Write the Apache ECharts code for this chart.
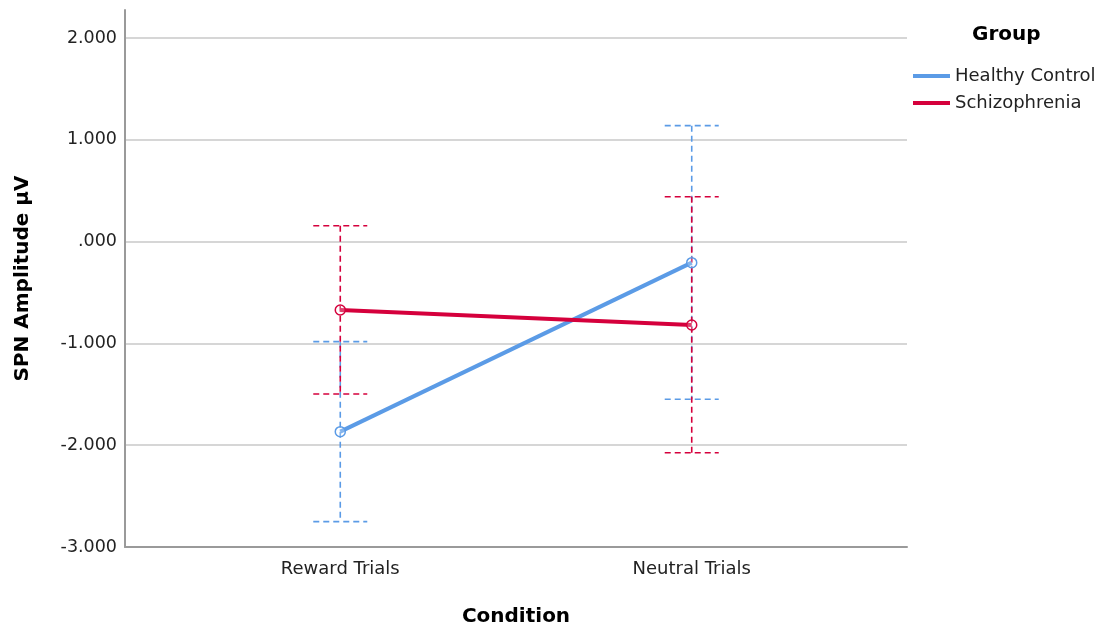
<!DOCTYPE html>
<html>
<head>
<meta charset="utf-8">
<script src="https://cdn.jsdelivr.net/npm/echarts@6/dist/echarts.min.js"></script>
<style>
  html, body { margin: 0; padding: 0; background: #fff; }
  #chart { width: 1102px; height: 630px; }
</style>
</head>
<body>
<div id="chart"></div>
<script>
const categories = ['Reward Trials', 'Neutral Trials'];
const groups = ['Healthy Control', 'Schizophrenia'];
const colors = ['#5b9be6', '#d5003c'];

// means and 95% CI per condition
const healthyMean = [-1.867, -0.207];
const healthyLow = [-2.751, -1.549];
const healthyHigh = [-0.983, 1.139];
const schizMean = [-0.672, -0.819];
const schizLow = [-1.497, -2.074];
const schizHigh = [0.156, 0.441];

const yTicks = [-3, -2, -1, 0, 1, 2];

let chartDom = document.getElementById('chart');
let myChart = echarts.init(chartDom);

const fmtTick = v => {
    if (!yTicks.includes(v)) return '';
    let s = v.toFixed(3);
    if (v === 0) s = '.000';
    return s;
};

const errorBars = (name, low, high, color) => ({
    name: name + ' CI',
    type: 'custom',
    silent: true,
    z: 1,
    data: low.map((l, i) => [i, l, high[i]]),
    renderItem: (params, api) => {
        const x = api.value(0);
        const bottom = api.coord([x, api.value(1)]);
        const top = api.coord([x, api.value(2)]);
        const half = 27;
        const style = {stroke: color, lineWidth: 1.6, lineDash: [6, 4]};
        return {
            type: 'group',
            children: [
                {type: 'line', shape: {x1: top[0], y1: top[1], x2: bottom[0], y2: bottom[1]}, style},
                {type: 'line', shape: {x1: top[0] - half, y1: top[1], x2: top[0] + half, y2: top[1]}, style},
                {type: 'line', shape: {x1: bottom[0] - half, y1: bottom[1], x2: bottom[0] + half, y2: bottom[1]}, style},
            ]
        };
    }
});

const meanLine = (name, values, color) => ({
    name,
    type: 'line',
    z: 3,
    color,
    data: values.map((v, i) => [i, v]),
    lineStyle: {width: 4, color},
    symbol: 'circle',
    symbolSize: 10,
    itemStyle: {color: 'rgba(255,255,255,0.25)', borderColor: color, borderWidth: 1.5},
    emphasis: {disabled: true},
});

const option = {
    animation: false,
    textStyle: {fontFamily: 'DejaVu Sans'},
    title: {
        text: 'Group',
        left: 967,
        top: 20,
        textStyle: {fontSize: 20, fontWeight: 'bold', color: '#000', fontFamily: 'DejaVu Sans'},
    },
    legend: {
        data: groups.map((g, i) => ({name: g, icon: 'rect', itemStyle: {color: colors[i], borderWidth: 0}})),
        orient: 'vertical',
        left: 908,
        top: 62,
        itemWidth: 37,
        itemHeight: 4,
        itemGap: 9,
        textStyle: {fontSize: 18, color: '#222', fontFamily: 'DejaVu Sans'},
    },
    grid: {
        left: 125,
        right: 195,
        top: 10,
        bottom: 83,
        outerBoundsMode: 'none',
    },
    xAxis: {
        type: 'value',
        min: -0.6125,
        max: 1.6125,
        name: 'Condition',
        nameLocation: 'middle',
        nameGap: 60,
        nameTextStyle: {fontSize: 20, fontWeight: 'bold', color: '#000'},
        axisLine: {show: true, onZero: false, lineStyle: {color: '#9a9a9a', width: 2}},
        axisTick: {show: false},
        splitLine: {show: false},
        axisLabel: {
            customValues: [0, 1],
            formatter: v => categories[Math.round(v)] || '',
            fontSize: 18,
            color: '#222',
            margin: 13,
        },
    },
    yAxis: {
        type: 'value',
        min: -3,
        max: 2.275,
        interval: 1,
        name: 'SPN Amplitude µV',
        nameLocation: 'middle',
        nameGap: 92,
        nameTextStyle: {fontSize: 20, fontWeight: 'bold', color: '#000'},
        axisLine: {show: true, onZero: false, lineStyle: {color: '#9a9a9a', width: 2}},
        axisTick: {show: false},
        splitLine: {show: true, showMaxLine: false, lineStyle: {color: '#c8c8c8', width: 1.5}},
        axisLabel: {
            formatter: fmtTick,
            fontSize: 17.5,
            color: '#222',
            margin: 8,
        },
    },
    series: [
        errorBars(groups[0], healthyLow, healthyHigh, colors[0]),
        errorBars(groups[1], schizLow, schizHigh, colors[1]),
        meanLine(groups[0], healthyMean, colors[0]),
        meanLine(groups[1], schizMean, colors[1]),
    ]
};

myChart.setOption(option);
</script>
</body>
</html>
